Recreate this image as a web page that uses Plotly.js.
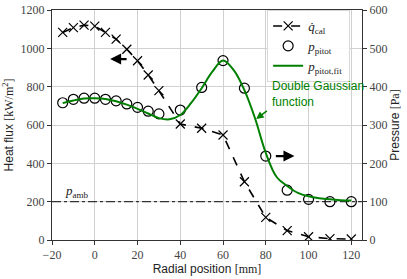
<!DOCTYPE html>
<html><head><meta charset="utf-8">
<script src="https://cdn.plot.ly/plotly-3.0.1.min.js"></script>
<style>html,body{margin:0;padding:0;background:#fff}#chart{width:407px;height:279px}</style>
</head><body><div id="chart"></div>
<script>
// Heat flux (left axis, kW/m^2)
const qX = [-15,-10,-5,0,5,10,15,20,25,30,40,50,60,70,80,90,100,110,120];
const qVal = [1083,1108,1121,1116,1083,1048,995,935,861,779,605,583,548,304,118,49,17,7,5];
// Pitot pressure (right axis, Pa)
const pX = [-15,-10,-5,0,5,10,15,20,25,30,40,50,60,70,80,90,100,110,120];
const pVal = [358,367,370,370,367,363,355,346,336,329,339,398,468,396,219,130,106,100,100];
// Double Gaussian fit (right axis, Pa)
const fitX = [-15,-10,-5,0,5,10,15,20,25,30,35,40,45,50,55,60,65,70,75,80,85,90,95,100,105,110,115,120];
const fitVal = [357,364,369,370,368,362,353,342,330,318,315,326,357,396,439,468,443,391,317,227,165,141,123,114,109,106,104,103];
// Ambient pressure (Pa)
const pAmbX = [-20,125];
const pAmbVal = [100,100];

const serif = '"Liberation Serif", "DejaVu Serif", serif';
const sans = '"Liberation Sans", Arial, sans-serif';
const green = '#008000';

const traces = [
  {x:qX, y:qVal, name:'<i>q̇</i><sub>cal</sub>', type:'scatter', mode:'lines+markers',
   line:{color:'#000', dash:'dash', width:1.6},
   marker:{symbol:'x-thin-open', size:9, line:{color:'#000', width:1.2}}, yaxis:'y'},
  {x:pAmbX, y:pAmbVal, type:'scatter', mode:'lines', showlegend:false,
   line:{color:'#333', dash:'dashdot', width:1.4}, yaxis:'y2', hoverinfo:'skip'},
  {x:pX, y:pVal, name:'<i>p</i><sub>pitot</sub>', type:'scatter', mode:'markers',
   marker:{symbol:'circle-open', size:10, color:'#000', line:{color:'#000', width:1.2}}, yaxis:'y2'},
  {x:fitX, y:fitVal, name:'<i>p</i><sub>pitot,fit</sub>', type:'scatter', mode:'lines',
   line:{color:green, width:2, shape:'spline', smoothing:1}, yaxis:'y2'}
];

const layout = {
  width:407, height:279,
  margin:{l:52, r:45, t:10, b:39},
  paper_bgcolor:'#fff', plot_bgcolor:'#fff',
  showlegend:true,
  legend:{x:0.694, y:1.0, xanchor:'left', yanchor:'top', bgcolor:'rgba(255,255,255,0.9)',
          bordercolor:'#d8d8d8', borderwidth:1, font:{family:serif, size:13, color:'#222'},
          tracegroupgap:0, itemwidth:30},
  xaxis:{range:[-20,125], tickvals:[-20,0,20,40,60,80,100,120], ticktext:['−20','0','20','40','60','80','100','120'],
         showgrid:true, gridcolor:'#d0d0d0', gridwidth:1, zeroline:false,
         showline:true, linecolor:'#333', linewidth:1, mirror:true,
         ticks:'outside', ticklen:4, tickcolor:'#333',
         tickfont:{family:serif, size:12, color:'#444'},
         title:{text:'Radial position <span style="font-family:Liberation Serif">[mm]</span>', font:{family:sans, size:12, color:'#222'}, standoff:2}},
  yaxis:{range:[0,1200], tickvals:[0,200,400,600,800,1000,1200],
         showgrid:true, gridcolor:'#d0d0d0', gridwidth:1, zeroline:false,
         showline:true, linecolor:'#333', linewidth:1,
         ticks:'outside', ticklen:4, tickcolor:'#333',
         tickfont:{family:serif, size:12, color:'#444'},
         title:{text:'Heat flux <span style="font-family:Liberation Serif">[kW/m<sup>2</sup>]</span>', font:{family:sans, size:12, color:'#222'}, standoff:4}},
  yaxis2:{range:[0,600], tickvals:[0,100,200,300,400,500,600], overlaying:'y', side:'right',
         showgrid:false, zeroline:false, showline:true, linecolor:'#333', linewidth:1,
         ticks:'outside', ticklen:4, tickcolor:'#333',
         tickfont:{family:serif, size:12, color:'#444'},
         title:{text:'Pressure <span style="font-family:Liberation Serif">[Pa]</span>', font:{family:sans, size:12, color:'#222'}, standoff:4}},
  annotations:[
    {x:7.2, y:944, ax:15.6, ay:944, xref:'x', yref:'y', axref:'x', ayref:'y', text:'', showarrow:true,
     arrowhead:2, arrowsize:1, arrowwidth:2.2, arrowcolor:'#000'},
    {x:93.4, y:438, ax:84, ay:438, xref:'x', yref:'y', axref:'x', ayref:'y', text:'', showarrow:true,
     arrowhead:2, arrowsize:1, arrowwidth:2.2, arrowcolor:'#000'},
    {x:75.5, y:631, ax:81.2, ay:680, xref:'x', yref:'y', axref:'x', ayref:'y', text:'', showarrow:true,
     arrowhead:2, arrowsize:1, arrowwidth:1.5, arrowcolor:green},
    {x:82, y:760, xref:'x', yref:'y', text:'Double Gaussian<br>function', showarrow:false,
     xanchor:'left', yanchor:'middle', align:'left', font:{family:sans, size:12, color:green}},
    {x:-15, y:200, xref:'x', yref:'y', text:'<i>p</i><sub>amb</sub>', showarrow:false,
     xanchor:'left', yanchor:'bottom', yshift:0, font:{family:serif, size:13, color:'#222'}}
  ]
};
Plotly.newPlot('chart', traces, layout, {displayModeBar:false, staticPlot:true});
</script></body></html>
